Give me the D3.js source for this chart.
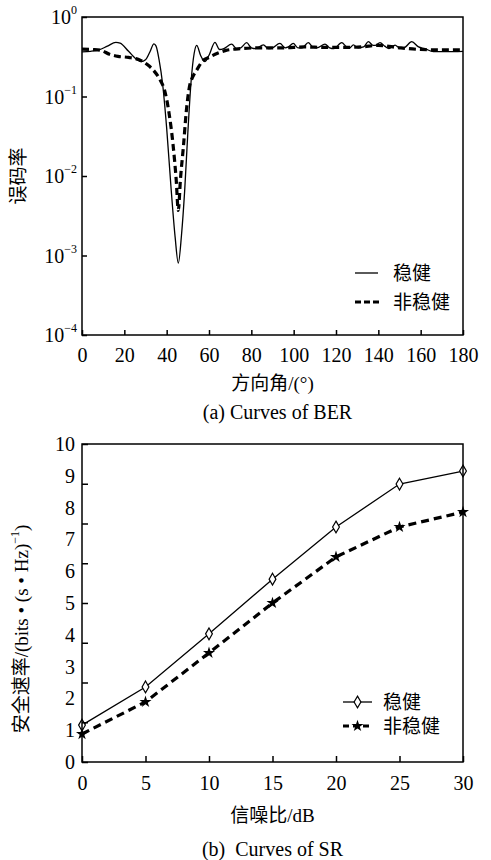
<!DOCTYPE html>
<html><head><meta charset="utf-8">
<script src="https://cdn.jsdelivr.net/npm/d3@7"></script>
<style>
html,body{margin:0;padding:0;background:#fff;}
svg{display:block;}
text{font-family:"Liberation Serif","Noto Sans CJK SC",serif;fill:#000;}
</style></head>
<body>
<svg id="chart" width="491" height="860"></svg>
<script>
// ---------- Data: (a) BER vs direction angle ----------
const robustAngle = [0,4,8,12,16,18,22,26,28,30,32,34,35,36.5,38,40,42,44,45.5,47,48.5,50,51.5,53,54.2,56,58,60,62.8,65,67,70.7,73,75,77.8,80,82,85.7,88,90,93.5,96,97.5,99.8,102,104,106.9,109,111,114.8,117,119,122.7,125,126.5,128.2,130.5,133,135.3,137.5,138.5,140.8,143,145,147.9,150,152,155.8,159,162,166,172,180];
const robustBER   = [0.365,0.37,0.385,0.43,0.48,0.47,0.37,0.29,0.275,0.29,0.36,0.46,0.43,0.28,0.15,0.04,0.0075,0.0017,0.0008,0.0018,0.0065,0.035,0.15,0.35,0.44,0.33,0.275,0.33,0.48,0.39,0.40,0.455,0.40,0.41,0.475,0.41,0.40,0.445,0.40,0.41,0.465,0.41,0.42,0.465,0.41,0.41,0.475,0.42,0.41,0.457,0.41,0.40,0.476,0.42,0.41,0.445,0.41,0.42,0.49,0.44,0.44,0.476,0.43,0.40,0.444,0.41,0.41,0.49,0.42,0.40,0.366,0.366,0.37];
const nonRobustAngle = [0,5,9,13,17,22,27,31,34,37,39,41,43,44.5,45.5,46.5,48,49.2,50.7,52.5,54.2,57,60,64,68,75,85,95,105,115,125,132,140,150,160,170,180];
const nonRobustBER   = [0.395,0.39,0.38,0.34,0.32,0.31,0.29,0.25,0.21,0.16,0.12,0.065,0.025,0.009,0.0037,0.009,0.025,0.062,0.13,0.18,0.215,0.28,0.31,0.35,0.38,0.40,0.41,0.41,0.42,0.415,0.415,0.42,0.44,0.41,0.39,0.385,0.385];
const angleTicks = [0,20,40,60,80,100,120,140,160,180];
const berTickExps = [0,-1,-2,-3,-4];

// ---------- Data: (b) secrecy rate vs SNR ----------
const snr = [0,5,10,15,20,25,30];
const robustSR    = [1.16,2.36,4.03,5.75,7.39,8.74,9.15];
const nonRobustSR = [0.88,1.89,3.43,5.0,6.45,7.39,7.86];
const snrTicks = [0,5,10,15,20,25,30];
const srLabels = [0,1,2,3,4,5,6,7,8,9,10];
const srTickMarks = [0,1.25,2.5,3.75,5,6.25,7.5,8.75,10];

const legendNames = ["稳健","非稳健"];

const SERIF = '"Liberation Serif","Noto Sans CJK SC",serif';
const svg = d3.select("#chart");
const L = 82, R = 463;

// ================= Chart (a) =================
(function(){
  const T = 17, B = 335;
  const x = d3.scaleLinear().domain([0,180]).range([L,R]);
  const y = d3.scaleLog().domain([1e-4,1]).range([B,T]);
  const g = svg.append("g");

  const line = d3.line().curve(d3.curveMonotoneX);
  g.append("path")
    .attr("d", line(robustAngle.map((a,i)=>[x(a), y(robustBER[i])])))
    .attr("fill","none").attr("stroke","#000").attr("stroke-width",1.3);
  g.append("path")
    .attr("d", line(nonRobustAngle.map((a,i)=>[x(a), y(nonRobustBER[i])])))
    .attr("fill","none").attr("stroke","#000").attr("stroke-width",3.2)
    .attr("stroke-dasharray","7,4");

  g.append("rect").attr("x",L).attr("y",T).attr("width",R-L).attr("height",B-T)
    .attr("fill","none").attr("stroke","#000").attr("stroke-width",1.5);

  const xa = g.append("g").attr("transform",`translate(0,${B})`)
    .call(d3.axisBottom(x).tickValues(angleTicks).tickSizeInner(-5).tickSizeOuter(0).tickPadding(13));
  xa.select(".domain").remove();
  xa.selectAll("line").attr("stroke","#000").attr("stroke-width",1.5);
  xa.selectAll("text").attr("font-size",20).style("font-family",SERIF).attr("fill","#000");

  const ya = g.append("g").attr("transform",`translate(${L},0)`)
    .call(d3.axisLeft(y).tickValues(berTickExps.map(e=>Math.pow(10,e))).tickSizeInner(-5).tickSizeOuter(0).tickFormat(""));
  ya.select(".domain").remove();
  ya.selectAll("line").attr("stroke","#000").attr("stroke-width",1.5);
  berTickExps.forEach(e=>{
    const t = g.append("text").attr("x",L-5).attr("y",y(Math.pow(10,e))+7)
      .attr("text-anchor","end").attr("font-size",20).style("font-family",SERIF);
    t.append("tspan").text("10");
    t.append("tspan").attr("font-size",12).attr("dy",-10).text(e===0?"0":"−"+(-e));
  });

  g.append("text").attr("x",(L+R)/2).attr("y",390)
    .attr("text-anchor","middle").attr("font-size",19).text("方向角/(°)");
  g.append("text").attr("x",(L+R)/2+5).attr("y",419)
    .attr("text-anchor","middle").attr("font-size",20).text("(a) Curves of BER");
  g.append("text").attr("transform",`translate(25,${(T+B)/2}) rotate(-90)`)
    .attr("text-anchor","middle").attr("font-size",19).text("误码率");

  const ly = [273,302];
  g.append("line").attr("x1",355).attr("x2",378).attr("y1",ly[0]).attr("y2",ly[0])
    .attr("stroke","#000").attr("stroke-width",1.3);
  g.append("line").attr("x1",355).attr("x2",379).attr("y1",ly[1]).attr("y2",ly[1])
    .attr("stroke","#000").attr("stroke-width",3.2).attr("stroke-dasharray","6,3");
  legendNames.forEach((n,i)=>{
    g.append("text").attr("x",393).attr("y",ly[i]+7).attr("font-size",19).text(n);
  });
})();

// ================= Chart (b) =================
(function(){
  const T = 444, B = 762;
  const x = d3.scaleLinear().domain([0,30]).range([L,R]);
  const y = d3.scaleLinear().domain([0,10]).range([B,T]);
  const g = svg.append("g");

  const line = d3.line();
  g.append("path")
    .attr("d", line(snr.map((s,i)=>[x(s), y(robustSR[i])])))
    .attr("fill","none").attr("stroke","#000").attr("stroke-width",1.3);
  g.append("path")
    .attr("d", line(snr.map((s,i)=>[x(s), y(nonRobustSR[i])])))
    .attr("fill","none").attr("stroke","#000").attr("stroke-width",3.2)
    .attr("stroke-dasharray","8,5");

  const diamond = d3.symbol().type(d3.symbolDiamond).size(40);
  const star = d3.symbol().type(d3.symbolStar).size(45);
  g.selectAll(".dm").data(snr).join("path")
    .attr("transform",(s,i)=>`translate(${x(s)},${y(robustSR[i])})`)
    .attr("d",diamond).attr("fill","#fff").attr("stroke","#000").attr("stroke-width",1.2);
  g.selectAll(".st").data(snr).join("path")
    .attr("transform",(s,i)=>`translate(${x(s)},${y(nonRobustSR[i])})`)
    .attr("d",star).attr("fill","#000");

  g.append("rect").attr("x",L).attr("y",T).attr("width",R-L).attr("height",B-T)
    .attr("fill","none").attr("stroke","#000").attr("stroke-width",1.5);

  const xa = g.append("g").attr("transform",`translate(0,${B})`)
    .call(d3.axisBottom(x).tickValues(snrTicks).tickSizeInner(-6).tickSizeOuter(0).tickPadding(14));
  xa.select(".domain").remove();
  xa.selectAll("line").attr("stroke","#000").attr("stroke-width",1.5);
  xa.selectAll("text").attr("font-size",20).style("font-family",SERIF).attr("fill","#000");

  const ya = g.append("g").attr("transform",`translate(${L},0)`)
    .call(d3.axisLeft(y).tickValues(srTickMarks).tickSizeInner(-6).tickSizeOuter(0).tickFormat(""));
  ya.select(".domain").remove();
  ya.selectAll("line").attr("stroke","#000").attr("stroke-width",1.5);
  srLabels.forEach(v=>{
    g.append("text").attr("x",L-7).attr("y",y(v)+7).attr("text-anchor","end")
      .attr("font-size",20).style("font-family",SERIF).text(v);
  });

  g.append("text").attr("x",(L+R)/2).attr("y",822)
    .attr("text-anchor","middle").attr("font-size",19).text("信噪比/dB");
  g.append("text").attr("x",(L+R)/2).attr("y",856)
    .attr("text-anchor","middle").attr("font-size",20).attr("xml:space","preserve").text("(b)  Curves of SR");

  const yl = g.append("text").attr("transform",`translate(28,${(T+B)/2+26}) rotate(-90)`)
    .attr("text-anchor","middle").attr("font-size",19);
  yl.append("tspan").text("安全速率/(bits • (s • Hz)");
  yl.append("tspan").attr("font-size",12).attr("dy",-9).text("−1");
  yl.append("tspan").attr("dy",9).text(")");

  const ly = [702,726];
  g.append("line").attr("x1",343).attr("x2",372).attr("y1",ly[0]).attr("y2",ly[0])
    .attr("stroke","#000").attr("stroke-width",1.3);
  g.append("path").attr("transform",`translate(357.5,${ly[0]})`).attr("d",diamond)
    .attr("fill","#fff").attr("stroke","#000").attr("stroke-width",1.2);
  g.append("line").attr("x1",343).attr("x2",372).attr("y1",ly[1]).attr("y2",ly[1])
    .attr("stroke","#000").attr("stroke-width",3.2).attr("stroke-dasharray","6,4");
  g.append("path").attr("transform",`translate(357.5,${ly[1]})`).attr("d",star).attr("fill","#000");
  legendNames.forEach((n,i)=>{
    g.append("text").attr("x",383).attr("y",ly[i]+7).attr("font-size",19).text(n);
  });
})();
</script>
</body></html>
